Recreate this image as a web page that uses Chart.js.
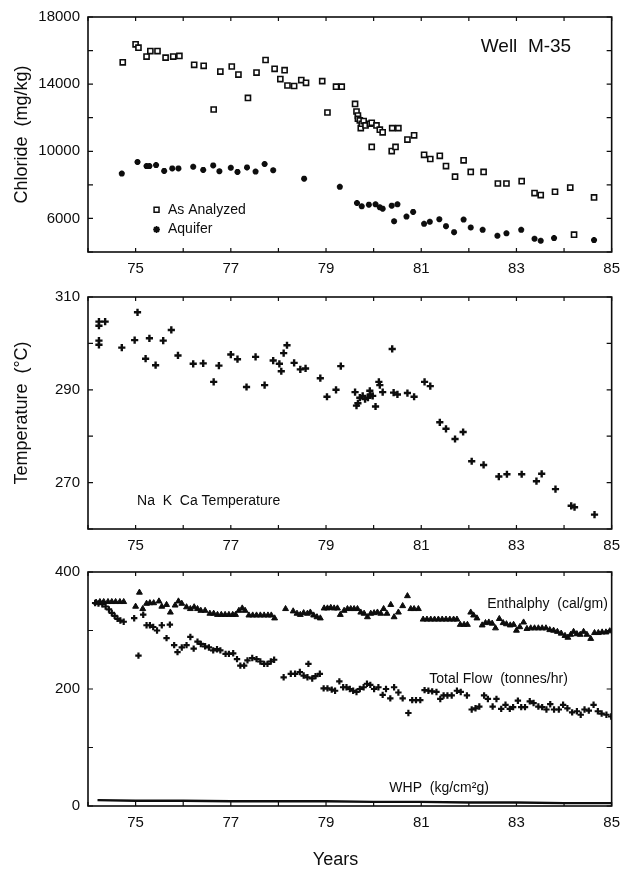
<!DOCTYPE html>
<html>
<head>
<meta charset="utf-8">
<script src="https://cdn.jsdelivr.net/npm/chart.js@4.4.1/dist/chart.umd.min.js"></script>
<style>
  html, body { margin: 0; background: #fff; width: 620px; height: 871px; overflow: hidden; }
  body { position: relative; }
  canvas { position: absolute; left: 0; }
</style>
</head>
<body>
<canvas id="chloride" width="628" height="290" style="top:0"></canvas>
<canvas id="temperature" width="628" height="285" style="top:280px"></canvas>
<canvas id="production" width="628" height="316" style="top:555px"></canvas>
<script>
// Well M-35 history: chloride, Na-K-Ca temperature, enthalpy / flow / WHP vs year (19xx)

// --- chloride (mg/kg) ---
const analyzedYears = [74.73, 75.00, 75.06, 75.23, 75.31, 75.46, 75.63, 75.79, 75.92, 76.23, 76.43, 76.64, 76.78, 77.02, 77.16, 77.36, 77.54, 77.73, 77.92, 78.04, 78.13, 78.19, 78.33, 78.48, 78.58, 78.92, 79.03, 79.21, 79.33, 79.61, 79.64, 79.67, 79.67, 79.71, 79.73, 79.75, 79.79, 79.83, 79.92, 79.96, 79.96, 80.06, 80.13, 80.19, 80.38, 80.39, 80.46, 80.52, 80.71, 80.85, 81.06, 81.19, 81.39, 81.52, 81.71, 81.89, 82.04, 82.31, 82.61, 82.79, 83.11, 83.38, 83.51, 83.81, 84.13, 84.21, 84.63]
const analyzedCl = [15300, 16370, 16170, 15640, 15970, 15970, 15580, 15640, 15680, 15150, 15090, 12490, 14750, 15050, 14570, 13180, 14690, 15440, 14910, 14300, 14830, 13920, 13890, 14240, 14080, 14180, 12310, 13850, 13850, 12820, 12370, 12130, 11940, 11840, 11380, 11640, 11800, 11540, 11640, 11700, 10260, 11540, 11290, 11130, 10010, 11380, 10260, 11380, 10700, 10950, 9790, 9540, 9730, 9120, 8490, 9460, 8770, 8770, 8080, 8080, 8220, 7510, 7390, 7590, 7840, 5030, 7250]
const aquiferYears = [74.71, 75.04, 75.23, 75.29, 75.43, 75.60, 75.77, 75.90, 76.21, 76.42, 76.63, 76.76, 77.00, 77.14, 77.34, 77.52, 77.71, 77.89, 78.54, 79.29, 79.65, 79.75, 79.90, 80.04, 80.13, 80.19, 80.38, 80.43, 80.50, 80.69, 80.83, 81.06, 81.18, 81.38, 81.52, 81.69, 81.89, 82.04, 82.29, 82.60, 82.79, 83.10, 83.38, 83.51, 83.79, 84.63]
const aquiferCl = [8670, 9360, 9120, 9120, 9180, 8830, 8980, 8980, 9080, 8890, 9160, 8810, 9020, 8770, 9040, 8790, 9240, 8870, 8370, 7880, 6920, 6720, 6820, 6840, 6660, 6580, 6760, 5830, 6840, 6110, 6390, 5680, 5800, 5950, 5540, 5180, 5930, 5460, 5320, 4970, 5110, 5320, 4790, 4670, 4830, 4710]

// --- Na K Ca temperature (deg C) ---
const tempYears = [74.23, 74.23, 74.36, 74.23, 74.23, 74.71, 74.98, 75.04, 75.21, 75.29, 75.42, 75.58, 75.75, 75.89, 76.21, 76.42, 76.64, 76.75, 77.00, 77.14, 77.33, 77.52, 77.71, 77.89, 78.02, 78.06, 78.11, 78.18, 78.33, 78.46, 78.57, 78.88, 79.02, 79.21, 79.31, 79.61, 79.64, 79.67, 79.71, 79.77, 79.82, 79.88, 79.93, 79.98, 79.92, 80.04, 80.11, 80.13, 80.19, 80.39, 80.42, 80.50, 80.71, 80.85, 81.07, 81.19, 81.39, 81.52, 81.71, 81.88, 82.06, 82.31, 82.63, 82.80, 83.11, 83.42, 83.53, 83.82, 84.15, 84.22, 84.64]
const tempValues = [304.7, 303.8, 304.7, 300.6, 299.7, 299.1, 300.7, 306.7, 296.7, 301.1, 295.3, 300.6, 302.9, 297.4, 295.6, 295.7, 291.7, 295.2, 297.6, 296.6, 290.6, 297.1, 291.0, 296.3, 295.6, 294.0, 297.9, 299.6, 295.8, 294.4, 294.6, 292.5, 288.5, 290.0, 295.1, 289.5, 286.6, 287.1, 288.3, 288.7, 288.0, 288.3, 289.0, 288.7, 289.8, 286.4, 291.7, 291.0, 289.5, 298.8, 289.4, 289.0, 289.3, 288.5, 291.7, 290.8, 283.0, 281.6, 279.4, 280.9, 274.6, 273.8, 271.3, 271.8, 271.8, 270.3, 271.9, 268.6, 265.0, 264.7, 263.1]

// --- enthalpy (cal/gm) ---
const enthYears = [74.17, 74.25, 74.33, 74.42, 74.50, 74.58, 74.67, 74.75, 75.00, 75.08, 75.15, 75.23, 75.30, 75.38, 75.49, 75.55, 75.65, 75.73, 75.83, 75.90, 75.97, 76.07, 76.15, 76.23, 76.30, 76.37, 76.46, 76.56, 76.64, 76.72, 76.80, 76.88, 76.96, 77.04, 77.10, 77.17, 77.24, 77.30, 77.38, 77.46, 77.54, 77.62, 77.70, 77.78, 77.85, 77.92, 78.15, 78.31, 78.39, 78.46, 78.53, 78.61, 78.67, 78.74, 78.81, 78.88, 78.96, 79.03, 79.10, 79.17, 79.24, 79.30, 79.38, 79.45, 79.52, 79.59, 79.66, 79.73, 79.80, 79.87, 79.94, 80.01, 80.08, 80.15, 80.21, 80.28, 80.36, 80.43, 80.52, 80.61, 80.71, 80.78, 80.85, 80.94, 81.04, 81.12, 81.20, 81.28, 81.36, 81.44, 81.52, 81.60, 81.68, 81.75, 81.82, 81.90, 81.97, 82.04, 82.10, 82.17, 82.28, 82.35, 82.42, 82.49, 82.56, 82.64, 82.72, 82.79, 82.87, 82.94, 83.00, 83.07, 83.15, 83.22, 83.30, 83.38, 83.46, 83.54, 83.62, 83.70, 83.78, 83.86, 83.94, 84.02, 84.08, 84.14, 84.20, 84.27, 84.34, 84.41, 84.48, 84.56, 84.64, 84.72, 84.80, 84.88, 84.96]
const enthValues = [348, 349, 349, 349, 349, 349, 349, 349, 341, 365, 337, 346, 347, 347, 350, 341, 344, 331, 343, 350, 346, 340, 337, 340, 337, 334, 334, 329, 329, 327, 327, 327, 327, 327, 327, 334, 338, 334, 326, 326, 326, 326, 326, 326, 326, 321, 337, 333, 329, 327, 330, 329, 331, 326, 323, 321, 338, 338, 339, 338, 338, 327, 334, 337, 337, 337, 337, 331, 329, 323, 329, 330, 331, 329, 337, 329, 344, 323, 331, 342, 359, 337, 337, 337, 319, 319, 319, 319, 319, 319, 319, 319, 319, 319, 310, 310, 310, 331, 326, 321, 309, 313, 314, 312, 304, 320, 313, 311, 309, 310, 300, 306, 314, 303, 304, 304, 304, 304, 304, 301, 300, 298, 295, 291, 288, 293, 298, 294, 293, 298, 293, 286, 296, 296, 297, 297, 299]

// --- total flow (tonnes/hr) ---
const flowYears = [74.15, 74.22, 74.30, 74.37, 74.44, 74.50, 74.56, 74.62, 74.68, 74.75, 74.97, 75.06, 75.16, 75.23, 75.30, 75.37, 75.45, 75.55, 75.65, 75.72, 75.81, 75.88, 75.97, 76.07, 76.15, 76.22, 76.30, 76.37, 76.46, 76.54, 76.63, 76.71, 76.78, 76.89, 76.96, 77.05, 77.13, 77.20, 77.28, 77.35, 77.45, 77.54, 77.62, 77.70, 77.77, 77.84, 77.91, 78.11, 78.26, 78.35, 78.45, 78.53, 78.61, 78.63, 78.71, 78.78, 78.87, 78.95, 79.03, 79.12, 79.19, 79.28, 79.36, 79.43, 79.50, 79.57, 79.64, 79.71, 79.79, 79.86, 79.93, 80.01, 80.10, 80.19, 80.26, 80.35, 80.43, 80.52, 80.61, 80.73, 80.81, 80.89, 80.98, 81.07, 81.15, 81.23, 81.32, 81.40, 81.47, 81.55, 81.64, 81.75, 81.83, 81.96, 82.06, 82.14, 82.22, 82.32, 82.40, 82.50, 82.58, 82.68, 82.77, 82.86, 82.93, 83.03, 83.10, 83.18, 83.28, 83.36, 83.46, 83.54, 83.63, 83.71, 83.79, 83.89, 83.98, 84.07, 84.17, 84.27, 84.35, 84.43, 84.52, 84.62, 84.71, 84.79, 84.89, 84.99]
const flowValues = [347, 346, 345, 341, 336, 330, 325, 320, 317, 315, 321, 257, 327, 309, 309, 306, 300, 309, 287, 310, 275, 263, 271, 275, 289, 269, 281, 277, 273, 271, 266, 268, 266, 260, 260, 261, 251, 240, 240, 249, 253, 251, 247, 243, 243, 247, 250, 220, 226, 226, 229, 223, 220, 243, 218, 222, 226, 201, 201, 199, 197, 213, 203, 203, 200, 197, 195, 200, 203, 209, 207, 200, 203, 190, 200, 184, 203, 194, 184, 159, 181, 181, 181, 198, 197, 196, 195, 183, 189, 189, 189, 197, 195, 189, 165, 167, 170, 189, 183, 170, 183, 166, 173, 166, 169, 180, 169, 169, 179, 176, 170, 169, 165, 174, 165, 165, 173, 167, 160, 162, 156, 165, 163, 173, 162, 158, 156, 153]

// --- well head pressure (kg/cm2 g) ---
const whpYears = [74.2, 75, 76, 77, 78, 79, 80, 81, 82, 83, 84, 85]
const whpValues = [10, 9, 9, 8, 8, 8, 7, 7, 6, 6, 5, 5]

const xTickLabels = [75, 77, 79, 81, 83, 85]
const clTickLabels = [6000, 10000, 14000, 18000]
const tempTickLabels = [270, 290, 310]
const prodTickLabels = [0, 200, 400]

const INK = '#0d0d0d'
const FONT = "'Liberation Sans', Arial, sans-serif"
Chart.defaults.font.family = FONT
Chart.defaults.color = INK

const zip = (xs, ys) => xs.map((x, i) => ({ x, y: ys[i] }))

// closed frame with inward tick marks on all four sides
const frame = {
  id: 'frame',
  afterDatasetsDraw(chart) {
    const { ctx, chartArea: a, scales: { x, y } } = chart
    ctx.save()
    ctx.strokeStyle = INK
    ctx.lineWidth = 1.6
    ctx.strokeRect(a.left, a.top, a.width, a.height)
    ctx.lineWidth = 1.2
    ctx.beginPath()
    x.ticks.forEach(t => {
      const px = x.getPixelForValue(t.value)
      ctx.moveTo(px, a.bottom); ctx.lineTo(px, a.bottom - 4)
      ctx.moveTo(px, a.top); ctx.lineTo(px, a.top + 4)
    })
    y.ticks.forEach(t => {
      const py = y.getPixelForValue(t.value)
      ctx.moveTo(a.left, py); ctx.lineTo(a.left + 5, py)
      ctx.moveTo(a.right, py); ctx.lineTo(a.right - 5, py)
    })
    ctx.stroke()
    ctx.restore()
  }
}

// in-plot captions and the little key, placed in data units
const notes = {
  id: 'notes',
  afterDatasetsDraw(chart, args, opts) {
    const { ctx, scales: { x, y } } = chart
    ctx.save()
    ;(opts.items || []).forEach(it => {
      const px = x.getPixelForValue(it.x)
      const py = y.getPixelForValue(it.y)
      if (it.marker) {
        ctx.fillStyle = it.marker.fill
        ctx.strokeStyle = INK
        ctx.lineWidth = it.marker.borderWidth
        Chart.helpers.drawPoint(ctx, it.marker, px, py)
        return
      }
      ctx.font = `${it.size || 14}px ${FONT}`
      ctx.fillStyle = INK
      ctx.textAlign = it.align || 'left'
      ctx.textBaseline = 'middle'
      ctx.fillText(it.text, px, py)
    })
    ctx.restore()
  }
}

function xAxis(height) {
  return {
    type: 'linear', min: 74, max: 85,
    grid: { display: false, drawTicks: false },
    border: { display: false },
    ticks: {
      stepSize: 1, autoSkip: false, maxRotation: 0, padding: 8,
      color: INK, font: { size: 15 },
      callback: v => (xTickLabels.includes(v) ? String(v) : '')
    },
    afterFit: s => { s.height = height }
  }
}

function yAxis(min, max, step, labels, title) {
  return {
    type: 'linear', min, max,
    grid: { display: false, drawTicks: false },
    border: { display: false },
    ticks: {
      stepSize: step, autoSkip: false, padding: 8,
      color: INK, font: { size: 15 },
      callback: v => (labels.includes(v) ? String(v) : '')
    },
    title: title ? { display: true, text: title, color: INK, font: { size: 18 }, padding: { top: 11 } } : { display: false },
    afterFit: s => { s.width = 88 }
  }
}

function baseOptions(padTop, padBottom, scales, items) {
  return {
    responsive: false,
    animation: false,
    events: [],
    layout: { padding: { top: padTop, right: 0, bottom: padBottom, left: 0 } },
    plugins: { legend: { display: false }, tooltip: { enabled: false }, notes: { items } },
    scales
  }
}

new Chart(document.getElementById('chloride'), {
  type: 'scatter',
  data: {
    datasets: [
      { label: 'As Analyzed', data: zip(analyzedYears, analyzedCl), pointStyle: 'rect', radius: 3.6, borderWidth: 1.6, borderColor: INK, backgroundColor: '#fff' },
      { label: 'Aquifer', data: zip(aquiferYears, aquiferCl), pointStyle: 'star', radius: 3, borderWidth: 2, borderColor: INK, backgroundColor: INK }
    ]
  },
  options: baseOptions(16, 0, {
    x: xAxis(38),
    y: yAxis(4000, 18000, 2000, clTickLabels, 'Chloride  (mg/kg)')
  }, [
    { text: 'Well  M-35', x: 83.2, y: 16230, size: 19, align: 'center' },
    { marker: { pointStyle: 'rect', radius: 3.5, borderWidth: 1.5, fill: '#fff' }, x: 75.44, y: 6520 },
    { text: 'As Analyzed', x: 75.68, y: 6520, size: 14 },
    { marker: { pointStyle: 'star', radius: 3.4, borderWidth: 1.8, fill: INK }, x: 75.44, y: 5340 },
    { text: 'Aquifer', x: 75.68, y: 5340, size: 14 }
  ]),
  plugins: [frame, notes]
})

new Chart(document.getElementById('temperature'), {
  type: 'scatter',
  data: {
    datasets: [
      { label: 'Na K Ca Temperature', data: zip(tempYears, tempValues), pointStyle: 'cross', radius: 3.6, borderWidth: 2.4, borderColor: INK, backgroundColor: INK }
    ]
  },
  options: baseOptions(15, 0, {
    x: xAxis(36),
    y: yAxis(260, 310, 10, tempTickLabels, 'Temperature  (°C)')
  }, [
    { text: 'Na  K  Ca Temperature', x: 75.03, y: 266, size: 14 }
  ]),
  plugins: [frame, notes]
})

new Chart(document.getElementById('production'), {
  type: 'scatter',
  data: {
    datasets: [
      { label: 'Enthalphy', data: zip(enthYears, enthValues), pointStyle: 'triangle', radius: 3.4, borderWidth: 1, borderColor: INK, backgroundColor: INK },
      { label: 'Total Flow', data: zip(flowYears, flowValues), pointStyle: 'cross', radius: 3.2, borderWidth: 2.2, borderColor: INK, backgroundColor: INK },
      { label: 'WHP', type: 'line', data: zip(whpYears, whpValues), showLine: true, pointRadius: 0, borderWidth: 2.4, borderColor: INK, tension: 0 }
    ]
  },
  options: baseOptions(17, 0, {
    x: xAxis(65),
    y: yAxis(0, 400, 100, prodTickLabels)
  }, [
    { text: 'Enthalphy  (cal/gm)', x: 84.92, y: 345, size: 14, align: 'right' },
    { text: 'Total Flow  (tonnes/hr)', x: 81.17, y: 217, size: 14 },
    { text: 'WHP  (kg/cm²g)', x: 80.33, y: 30, size: 14 },
    // axis caption sits left of the frame centre, as in the original
    { text: 'Years', x: 79.2, y: -92, size: 18, align: 'center' }
  ]),
  plugins: [frame, notes]
})
</script>
</body>
</html>
